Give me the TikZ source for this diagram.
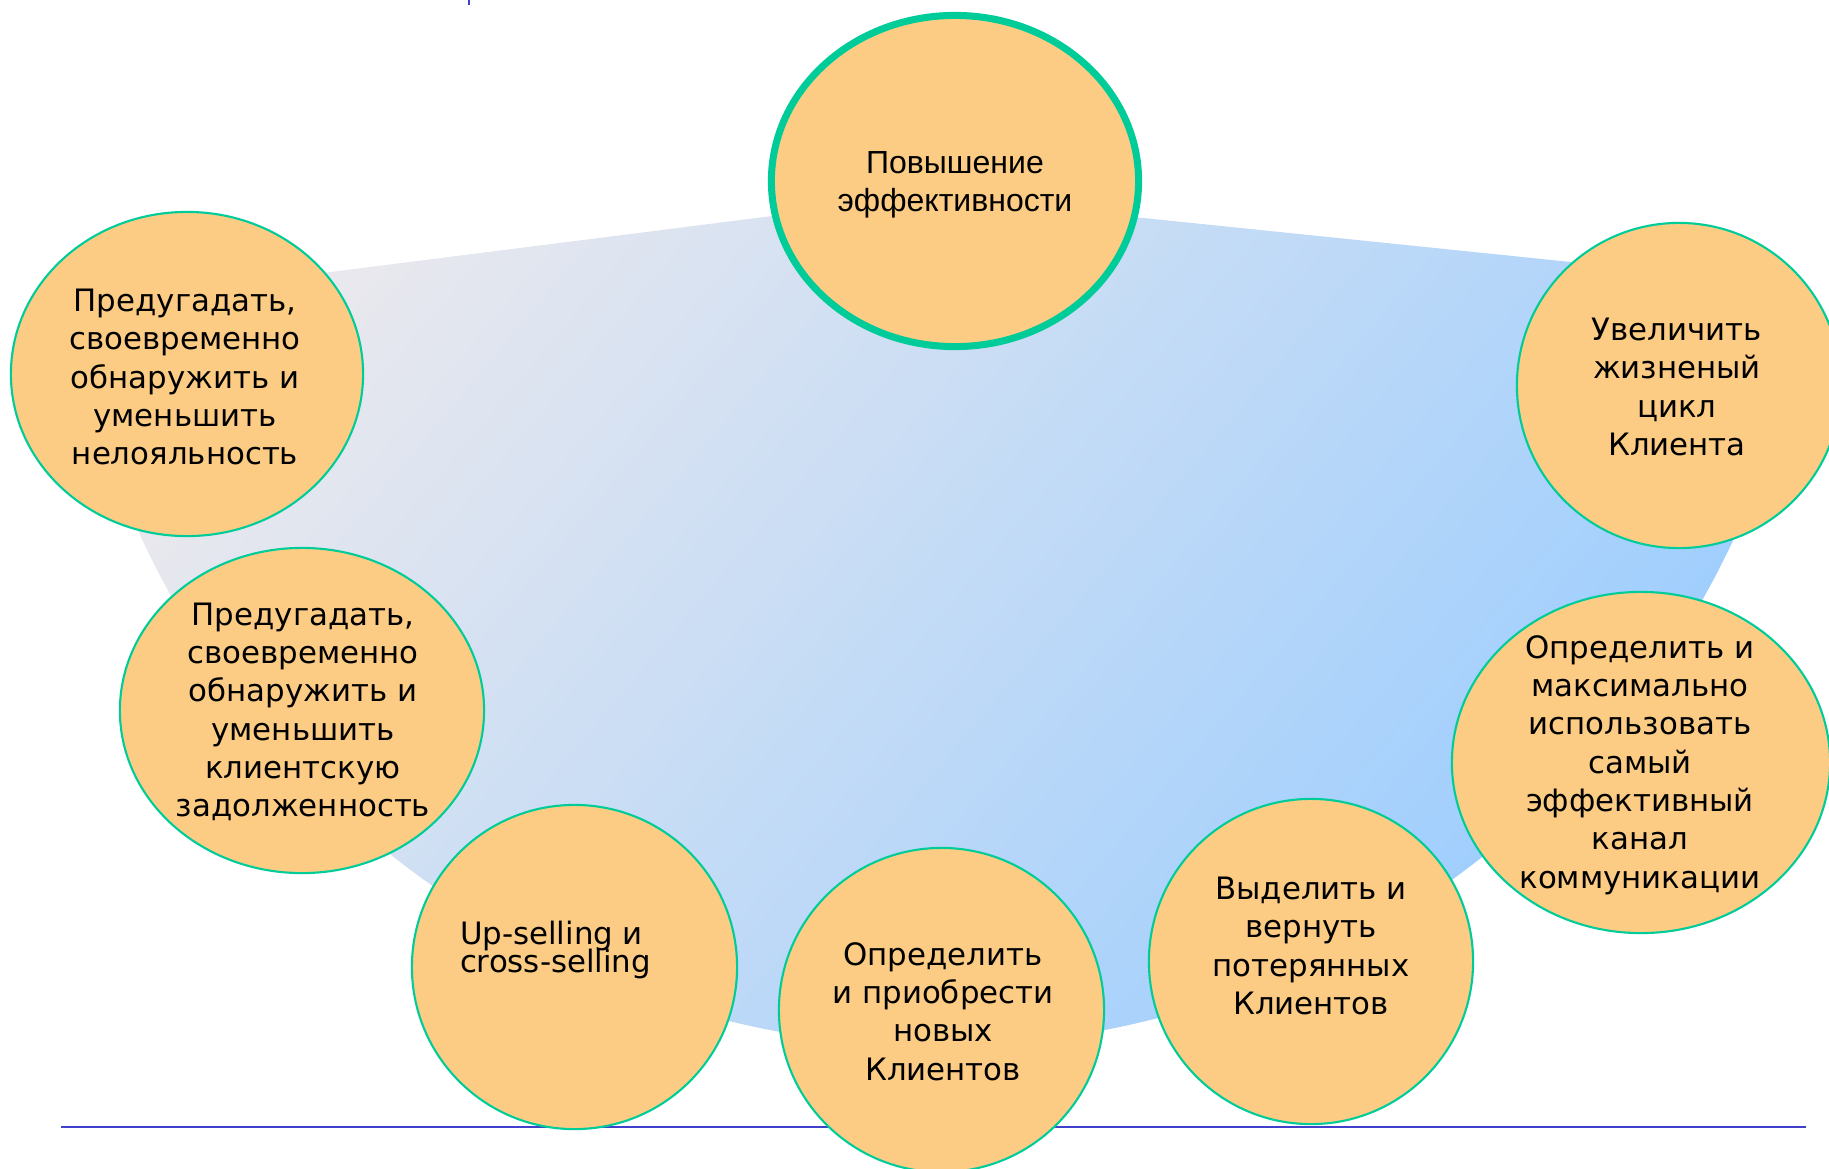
\documentclass[tikz,border=0pt]{standalone}
\usepackage{fontspec}
\setmainfont{DejaVu Sans}
\newfontfamily\arialfont{Liberation Sans}
\usetikzlibrary{shapes.geometric,calc}
\definecolor{bubblefill}{RGB}{252,204,132}
\definecolor{bubbleline}{RGB}{0,204,153}
\definecolor{fantop}{RGB}{232,232,238}
\definecolor{fanbottom}{RGB}{153,204,255}
\definecolor{ruleblue}{RGB}{64,64,204}
\tikzset{
  bubble/.style={ellipse, draw=bubbleline, fill=bubblefill, line width=0.6pt, inner sep=0pt},
  goaltext/.style={align=center, inner sep=0pt, font=\fontsize{8.77}{10.9}\selectfont},
}
% #1 extra text style, #2 name, #3 centre, #4 width, #5 height, #6 text shift, #7 text
\newcommand{\goalbubble}[7][]{
  \node[bubble, minimum width=#4, minimum height=#5] (#2) at (#3) {};
  \node[goaltext, #1] (#2-txt) at ($(#2.center)+(#6)$) {#7};
}

\begin{document}
\begin{tikzpicture}[x=0.01cm, y=-0.01cm]
  \clip (0,0) rectangle (1829,1169);
  % fan behind the bubbles
  \shade[top color=fantop, middle color=fanbottom!72!fantop, bottom color=fanbottom, shading angle=50]
    (930,196) -- (70.7,304.9) arc[start angle=171.03, end angle=7.75, radius=878] -- cycle;
  \draw[ruleblue, line width=0.6pt] (61,1127) -- (1806,1127);
  \draw[ruleblue, line width=0.6pt] (469,0) -- (469,5);

  \node[bubble, line width=2pt, minimum width=3.67cm, minimum height=3.31cm] (effect) at (955,181) {};
  \node[goaltext, font=\arialfont\fontsize{9.1}{10.9}\selectfont] (effect-txt) at ($(effect.center)+(0,4)$) {Повышение\\эффективности};

  \goalbubble{disloyal}{187,374}{3.52cm}{3.24cm}{-2,3}{Предугадать,\\своевременно\\обнаружить и\\уменьшить\\нелояльность}
  \goalbubble{lifecycle}{1679,385.5}{3.24cm}{3.25cm}{-2,1.5}{Увеличить\\жизненый\\цикл\\Клиента}
  \goalbubble{debt}{302,710.5}{3.64cm}{3.25cm}{1,1.5}{Предугадать,\\своевременно\\обнаружить и\\уменьшить\\клиентскую\\задолженность}
  \goalbubble[align=left, font={\fontsize{8.77}{7.97}\selectfont\lineskiplimit=-10pt}]{upsell}{574.5,967}{3.25cm}{3.24cm}{-19,-17}{Up-selling и\\cross-selling}
  \goalbubble{newclients}{941.5,1010}{3.25cm}{3.24cm}{1.5,1.5}{Определить\\и приобрести\\новых\\Клиентов}
  \goalbubble{winback}{1311,961.5}{3.24cm}{3.25cm}{0,-15.5}{Выделить и\\вернуть\\потерянных\\Клиентов}
  \goalbubble{channel}{1641,762.5}{3.78cm}{3.41cm}{-1,2.5}{Определить и\\максимально\\использовать\\самый\\эффективный\\канал\\коммуникации}
\end{tikzpicture}
\end{document}
